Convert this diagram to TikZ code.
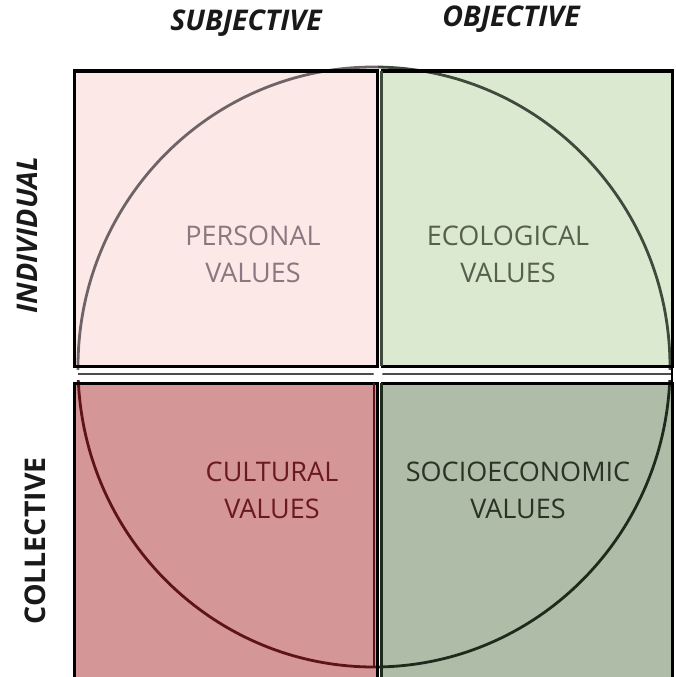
\documentclass[tikz,border=0pt]{standalone}
\usepackage{fontspec}
\setmainfont{Open Sans}
\definecolor{plfill}{HTML}{FDE8E8}
\definecolor{elfill}{HTML}{DBE9D0}
\definecolor{clfill}{HTML}{D49696}
\definecolor{sefill}{HTML}{AFBCA7}
\definecolor{pltext}{HTML}{8A7880}
\definecolor{eltext}{HTML}{55604F}
\definecolor{cltext}{HTML}{6A1A1E}
\definecolor{setext}{HTML}{2A3326}
\definecolor{plline}{HTML}{6E6468}
\definecolor{elline}{HTML}{3F4A3C}
\definecolor{clline}{HTML}{5E1416}
\definecolor{seline}{HTML}{1E2A1C}
\begin{document}
\begin{tikzpicture}[x=1pt,y=-1pt,
  quad/.style={draw=black,line width=3pt},
  arcline/.style={line width=2.8pt},
  head/.style={font=\fontsize{28.5}{28.5}\selectfont\bfseries\itshape,text=black!90,inner sep=0pt},
  side/.style={font=\fontsize{28.5}{28.5}\selectfont\bfseries,text=black!90,inner sep=0pt,rotate=90},
  lab/.style={font=\fontsize{27}{37}\selectfont,align=center,inner sep=0pt}]
\useasboundingbox (0,0) rectangle (675,677);
% quadrant fills
\fill[plfill] (74,71) rectangle (377,366);
\fill[elfill] (381,71) rectangle (672,366);
\fill[clfill] (74,383) rectangle (377,680);
\fill[sefill] (381,383) rectangle (672,680);
% circle arcs, one colour per quadrant
\begin{scope}
  \clip (60,40) rectangle (378,369);
  \draw[arcline,plline] (374,367) ellipse [x radius=296, y radius=300];
\end{scope}
\begin{scope}
  \clip (378,40) rectangle (690,369);
  \draw[arcline,elline] (374,367) ellipse [x radius=296, y radius=300];
\end{scope}
\begin{scope}
  \clip (60,380) rectangle (378,690);
  \draw[arcline,clline] (374,367) ellipse [x radius=296, y radius=300];
\end{scope}
\begin{scope}
  \clip (378,380) rectangle (690,690);
  \draw[arcline,seline] (374,367) ellipse [x radius=296, y radius=300];
\end{scope}
% quadrant borders
\draw[quad] (74,71) rectangle (377,366);
\draw[quad] (381,71) -- (672,71) -- (672,366) -- (381,366);
\draw[quad] (74,680) -- (74,383) -- (377,383) -- (377,680);
\draw[quad] (381,383) -- (672,383) -- (672,680);
% vertical divider (double line)
\draw[elline,line width=2.2pt] (381.5,71) -- (381.5,366);
\draw[seline,line width=2.2pt] (381.5,383) -- (381.5,680);
\draw[clline,line width=1.8pt] (374,383) -- (374,668);
% horizontal band
\draw[black!70,line width=2pt] (78,374) -- (672,374);
\draw[black,line width=2.5pt] (672,366) -- (672,383);
\fill[white] (378,374) circle (4.5);
% header labels
\node[head] (subj) at (246,23) {SUBJECTIVE};
\node[head] (obj) at (511,19) {OBJECTIVE};
\node[side,font=\fontsize{28.5}{28.5}\selectfont\bfseries\itshape] (indiv) at (27,235) {INDIVIDUAL};
\node[side] (coll) at (35,541) {COLLECTIVE};
% quadrant labels
\node[lab,text=pltext] (pers) at (253,254) {PERSONAL\\VALUES};
\node[lab,text=eltext] (eco) at (508,254) {ECOLOGICAL\\VALUES};
\node[lab,text=cltext] (cult) at (272,490) {CULTURAL\\VALUES};
\node[lab,text=setext] (socio) at (518,490) {SOCIOECONOMIC\\VALUES};
\end{tikzpicture}
\end{document}
